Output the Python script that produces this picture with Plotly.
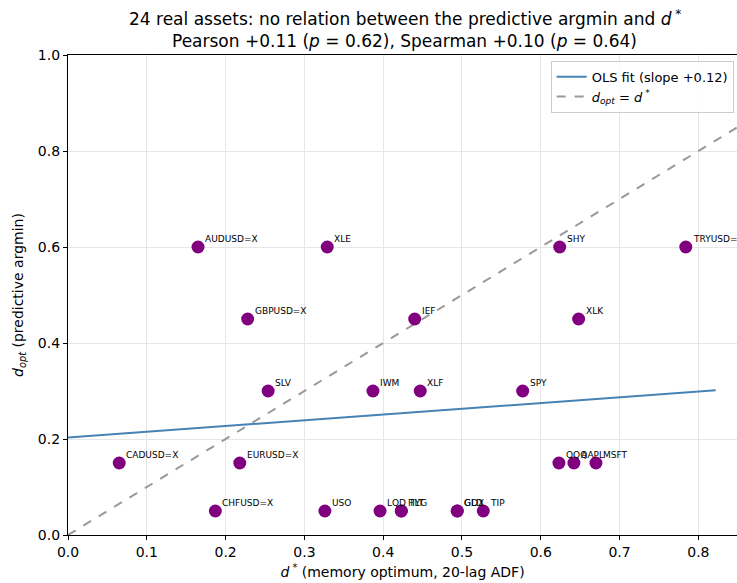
import plotly.graph_objects as go

# Per-asset optimum: memory optimum d* vs predictive argmin d_opt
tickers = [
    "AUDUSD=X", "XLE", "SHY", "TRYUSD=X",
    "GBPUSD=X", "IEF", "XLK",
    "SLV", "IWM", "XLF", "SPY",
    "CADUSD=X", "EURUSD=X", "QQQ", "AAPL", "MSFT",
    "CHFUSD=X", "USO", "LQD", "TLT", "HYG", "GLD", "GDX", "TIP",
]
d_star = [
    0.165, 0.329, 0.624, 0.784,
    0.228, 0.440, 0.648,
    0.254, 0.387, 0.447, 0.577,
    0.065, 0.218, 0.623, 0.642, 0.670,
    0.187, 0.326, 0.396, 0.423, 0.423, 0.494, 0.494, 0.527,
]
d_opt = [
    0.60, 0.60, 0.60, 0.60,
    0.45, 0.45, 0.45,
    0.30, 0.30, 0.30, 0.30,
    0.15, 0.15, 0.15, 0.15, 0.15,
    0.05, 0.05, 0.05, 0.05, 0.05, 0.05, 0.05, 0.05,
]

# OLS fit of d_opt on d*
ols_slope = 0.12
ols_intercept = 0.203
ols_x = [0.0, 0.822]

x_ticks = [0.0, 0.1, 0.2, 0.3, 0.4, 0.5, 0.6, 0.7, 0.8]
y_ticks = [0.0, 0.2, 0.4, 0.6, 0.8, 1.0]

title_lines = [
    "24 real assets: no relation between the predictive argmin and <i>d</i><sup> *</sup>",
    "Pearson +0.11 (<i>p</i> = 0.62), Spearman +0.10 (<i>p</i> = 0.64)",
]

FONT = "DejaVu Sans"

fig = go.Figure()

fig.add_trace(go.Scatter(
    x=ols_x, y=[ols_intercept + ols_slope * v for v in ols_x],
    mode="lines", line=dict(color="#4682b4", width=2),
    name="OLS fit (slope +0.12)",
))
fig.add_trace(go.Scatter(
    x=[0.0, 1.0], y=[0.0, 1.0],
    mode="lines", line=dict(color="#999999", width=2, dash="dash"),
    name="<i>d</i><sub><i>opt</i></sub> = <i>d</i><sup> *</sup>",
))
fig.add_trace(go.Scatter(
    x=d_star, y=d_opt, mode="markers",
    marker=dict(color="#800080", size=13, line=dict(width=0)),
    showlegend=False, hoverinfo="text", text=tickers,
))

for t, xv, yv in zip(tickers, d_star, d_opt):
    fig.add_annotation(
        x=xv, y=yv, text=t, showarrow=False,
        xanchor="left", yanchor="bottom", xshift=5, yshift=1,
        font=dict(family=FONT, size=9, color="black"),
    )

# two-line title
for i, line in enumerate(title_lines):
    fig.add_annotation(
        xref="paper", yref="paper", x=0.503, y=1.0,
        xanchor="center", yanchor="middle", yshift=37 - 23 * i,
        text=line, showarrow=False,
        font=dict(family=FONT, size=17, color="black"),
    )

axis_common = dict(
    showgrid=True, gridcolor="#e6e6e6", gridwidth=1,
    zeroline=False, showline=True, linecolor="black", linewidth=1.2,
    ticks="outside", ticklen=4, tickcolor="black",
    tickfont=dict(family=FONT, size=14, color="black"),
)

fig.update_xaxes(
    range=[0, 0.849], tickvals=x_ticks,
    ticktext=[f"{v:.1f}" for v in x_ticks], mirror=True,
    title=dict(text="<i>d</i><sup> *</sup> (memory optimum, 20-lag ADF)",
               font=dict(family=FONT, size=14, color="black"), standoff=8),
    **axis_common,
)
fig.update_yaxes(
    range=[0, 1.0], tickvals=y_ticks,
    ticktext=[f"{v:.1f}" for v in y_ticks],
    title=dict(text="<i>d</i><sub><i>opt</i></sub> (predictive argmin)",
               font=dict(family=FONT, size=14, color="black"), standoff=10),
    **axis_common,
)

fig.update_layout(
    width=737, height=583,
    margin=dict(l=68, r=0, t=55, b=48),
    plot_bgcolor="white", paper_bgcolor="white",
    legend=dict(
        x=0.995, y=0.988, xanchor="right", yanchor="top",
        bgcolor="rgba(255,255,255,0.85)", bordercolor="#cccccc", borderwidth=1,
        font=dict(family=FONT, size=13, color="black"),
        tracegroupgap=0,
    ),
    font=dict(family=FONT),
)

fig.write_html("out.html")
